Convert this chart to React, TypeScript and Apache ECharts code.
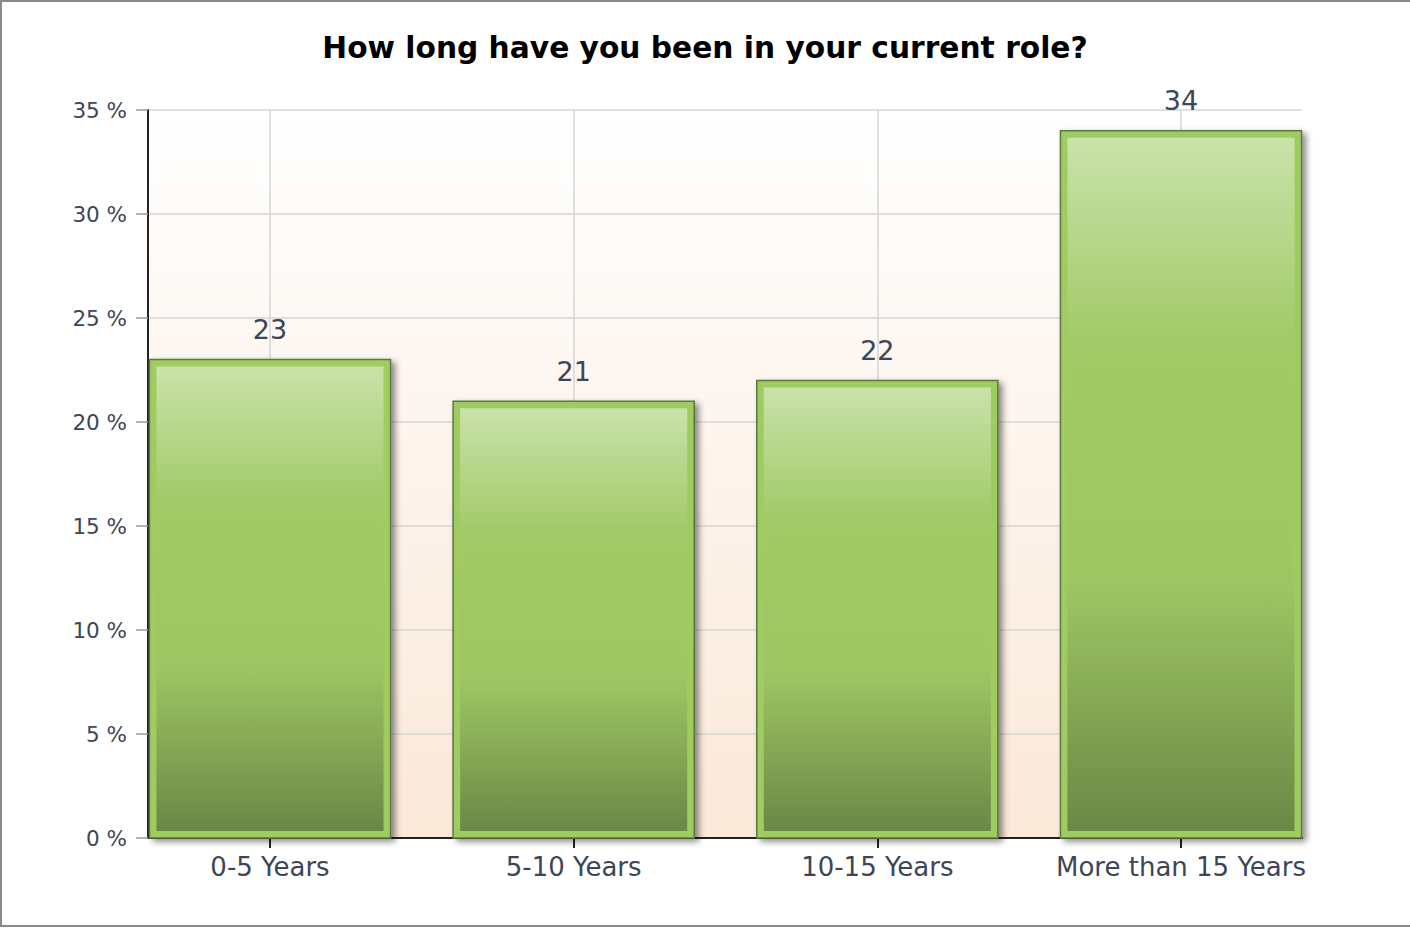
import React, { useEffect, useRef } from "react";
import * as echarts from "echarts";

const categories = ["0-5 Years", "5-10 Years", "10-15 Years", "More than 15 Years"];
const values = [23, 21, 22, 34];
const yMin = 0;
const yMax = 35;
const yStep = 5;
const titleText = "How long have you been in your current role?";

const FONT = '"DejaVu Sans", "Liberation Sans", Arial, sans-serif';
const TEXT_COLOR = "#3d4656";

export default function App() {
  const ref = useRef<HTMLDivElement>(null);

  useEffect(() => {
    if (!ref.current) return;
    const chart = echarts.init(ref.current, null, { renderer: "svg" });

    const innerGradient = {
      type: "linear",
      x: 0,
      y: 0,
      x2: 0,
      y2: 1,
      colorStops: [
        { offset: 0, color: "#c9e2aa" },
        { offset: 0.3, color: "#a1c966" },
        { offset: 0.64, color: "#9fc663" },
        { offset: 1, color: "#6a8846" },
      ],
    };

    const option: any = {
      animation: false,
      backgroundColor: "#ffffff",
      title: {
        text: titleText,
        left: "center",
        top: 27,
        textStyle: {
          fontFamily: FONT,
          fontWeight: "bold",
          fontSize: 29.7,
          color: "#000000",
        },
      },
      graphic: [
        {
          type: "rect",
          silent: true,
          shape: { x: 1, y: 1, width: 1430, height: 925 },
          style: { fill: "none", stroke: "#8a8a8a", lineWidth: 2 },
        },
      ],
      grid: [
        { left: 270, top: 110, width: 911, height: 728, show: false },
        {
          left: 148,
          top: 110,
          width: 1154,
          height: 728,
          show: true,
          borderWidth: 0,
          backgroundColor: {
            type: "linear",
            x: 0,
            y: 0,
            x2: 0,
            y2: 1,
            colorStops: [
              { offset: 0, color: "#ffffff" },
              { offset: 1, color: "#fae8d8" },
            ],
          },
        },
      ],
      xAxis: [
        {
          type: "category",
          gridIndex: 0,
          data: categories,
          boundaryGap: false,
          axisLine: { show: false },
          axisTick: { show: true, length: 10, lineStyle: { color: "#222", width: 2 } },
          axisLabel: {
            margin: 16,
            fontFamily: FONT,
            fontSize: 26,
            color: TEXT_COLOR,
            interval: 0,
          },
          splitLine: { show: true, lineStyle: { color: "#d6d6d6", width: 1.5 } },
        },
        {
          type: "value",
          gridIndex: 1,
          min: 0,
          max: 1,
          axisLine: { show: true, onZero: false, lineStyle: { color: "#222", width: 2 } },
          axisTick: { show: false },
          axisLabel: { show: false },
          splitLine: { show: false },
        },
      ],
      yAxis: [
        {
          type: "value",
          gridIndex: 0,
          min: yMin,
          max: yMax,
          interval: yStep,
          show: false,
          splitLine: { show: false },
        },
        {
          type: "value",
          gridIndex: 1,
          min: yMin,
          max: yMax,
          interval: yStep,
          axisLine: { show: true, lineStyle: { color: "#222", width: 2 } },
          axisTick: { show: true, length: 12, lineStyle: { color: "#9a9a9a", width: 1.5 } },
          axisLabel: {
            margin: 21,
            formatter: "{value} %",
            fontFamily: FONT,
            fontSize: 21.5,
            color: TEXT_COLOR,
          },
          splitLine: { show: true, lineStyle: { color: "#d6d6d6", width: 1.5 } },
        },
      ],
      series: [
        {
          type: "custom",
          coordinateSystem: "cartesian2d",
          xAxisIndex: 0,
          yAxisIndex: 0,
          data: values.map((v, i) => [i, v]),
          clip: false,
          renderItem: (params: any, api: any) => {
            const idx = api.value(0);
            const v = api.value(1);
            const top = api.coord([idx, v]);
            const base = api.coord([idx, 0]);
            const band = api.size([1, 0])[0];
            const w = band * 0.794;
            const left = top[0] - w / 2;
            const h = base[1] - top[1];
            const inset = 7;
            return {
              type: "group",
              children: [
                {
                  type: "rect",
                  shape: { x: left, y: top[1], width: w, height: h },
                  style: {
                    fill: "#9fcc61",
                    stroke: "#5e7444",
                    lineWidth: 1.5,
                    shadowBlur: 6,
                    shadowOffsetX: 4,
                    shadowOffsetY: 3,
                    shadowColor: "rgba(0,0,0,0.45)",
                  },
                },
                {
                  type: "rect",
                  shape: {
                    x: left + inset,
                    y: top[1] + inset,
                    width: w - inset * 2,
                    height: h - inset * 2,
                  },
                  style: { fill: innerGradient },
                },
                {
                  type: "text",
                  x: top[0],
                  y: top[1] - 30,
                  style: {
                    text: String(v),
                    align: "center",
                    verticalAlign: "middle",
                    fill: TEXT_COLOR,
                    font: `27px ${FONT}`,
                  },
                },
              ],
            };
          },
        },
      ],
    };

    chart.setOption(option);
    return () => chart.dispose();
  }, []);

  return (
    <div
      ref={ref}
      style={{ position: "fixed", left: 0, top: 0, width: 1410, height: 930 }}
    />
  );
}
